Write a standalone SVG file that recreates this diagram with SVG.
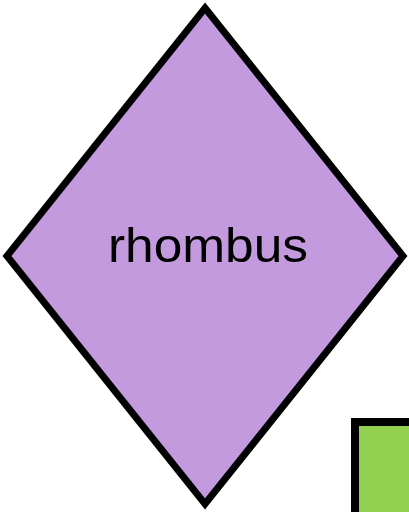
<svg xmlns="http://www.w3.org/2000/svg" width="409" height="512" viewBox="0 0 409 512">
<style>
.shape{stroke:#000;stroke-linejoin:miter}
.lbl{font-family:"Liberation Sans",Arial,sans-serif;fill:#000}
</style>
<rect width="409" height="512" fill="#fff"/>
<g id="rhombus">
<polygon class="shape" points="205,8 403,256 205,504 7,256" fill="#C49ADF" stroke-width="7"/>
<text class="lbl" x="208" y="262" font-size="48" text-anchor="middle" textLength="200" lengthAdjust="spacingAndGlyphs">rhombus</text>
</g>
<g id="rect">
<rect class="shape" x="355" y="422" width="80" height="120" fill="#92D050" stroke-width="8"/>
</g>
<g id="connectors"></g>
</svg>
